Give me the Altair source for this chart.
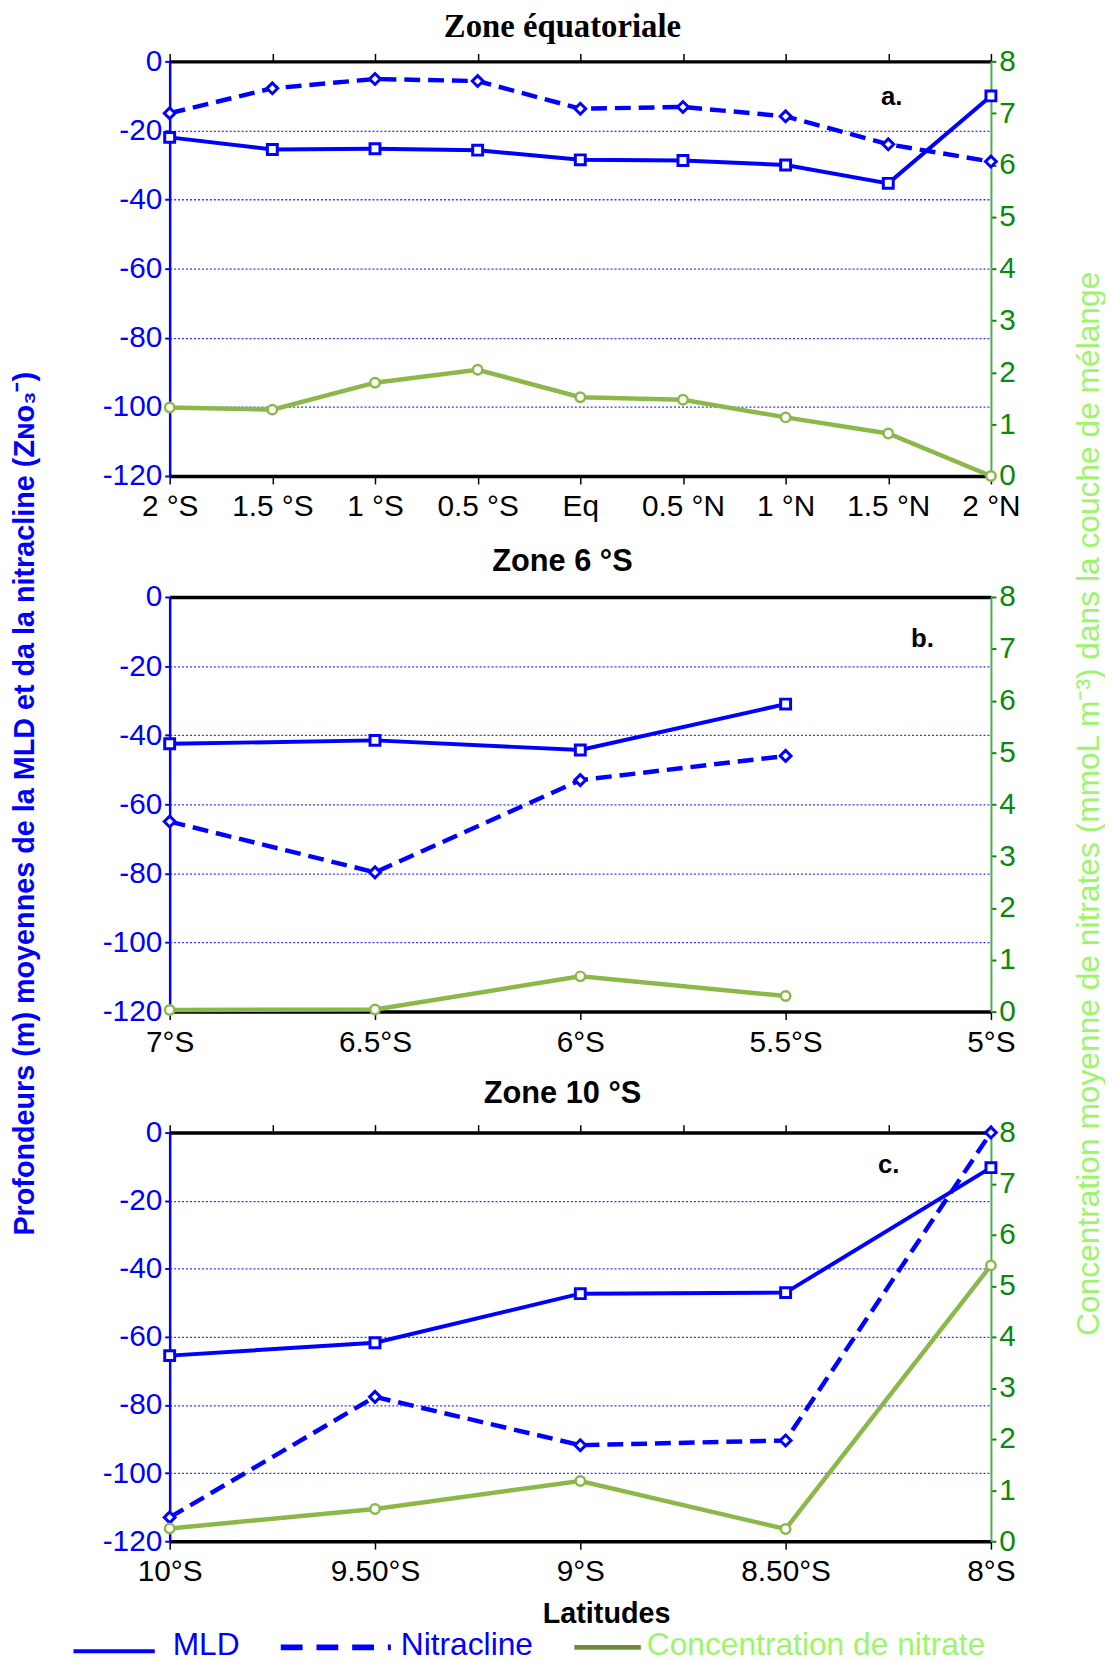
import json
import altair as alt
import pandas as pd

# ---------------- data ----------------
lat_a = [-2, -1.5, -1, -0.5, 0, 0.5, 1, 1.5, 2]
ticks_a = [-2, -1.5, -1, -0.5, 0, 0.5, 1, 1.5, 2]
labels_a = ["2 °S", "1.5 °S", "1 °S", "0.5 °S", "Eq", "0.5 °N", "1 °N", "1.5 °N", "2 °N"]
mld_a = [-22, -25.5, -25.3, -25.7, -28.5, -28.7, -30, -35.3, -10]
nit_a = [-15, -7.8, -5.1, -5.7, -13.7, -13.2, -15.9, -24, -29]
no3_a = [1.32, 1.28, 1.8, 2.05, 1.52, 1.47, 1.13, 0.82, 0.0]

lat_b = [-7, -6.5, -6, -5.5]
ticks_b = [-7, -6.5, -6, -5.5, -5]
labels_b = ["7°S", "6.5°S", "6°S", "5.5°S", "5°S"]
mld_b = [-42.5, -41.5, -44.3, -31]
nit_b = [-65, -79.7, -53, -46]
no3_b = [0.03, 0.04, 0.68, 0.3]

lat_c = [-10, -9.5, -9, -8.5, -8]
ticks_c = [-10, -9.5, -9, -8.5, -8]
top_ticks_c = [-10, -9.75, -9.5, -9.25, -9, -8.75, -8.5, -8.25, -8]
labels_c = ["10°S", "9.50°S", "9°S", "8.50°S", "8°S"]
mld_c = [-65.5, -61.7, -47.3, -47, -10.3]
nit_c = [-113, -77.6, -91.8, -90.4, 0]
no3_c = [0.25, 0.63, 1.18, 0.24, 5.4]

depth_ticks = [0, -20, -40, -60, -80, -100, -120]
conc_ticks = [0, 1, 2, 3, 4, 5, 6, 7, 8]

titles = ["Zone équatoriale", "Zone 6 °S", "Zone 10 °S"]
panel_tags = ["a.", "b.", "c."]
left_title = "Profondeurs (m) moyennes de la MLD et da la nitracline (Zɴᴏ₃⁻)"
right_title = "Concentration moyenne de nitrates (mmoL m⁻³) dans la couche de mélange"
x_title = "Latitudes"
legend_names = ["MLD", "Nitracline", "Concentration de nitrate"]

# ---------------- style ----------------
BLUE = "#0000FF"
GREEN_AX = "#0A8A0A"
GREEN_LINE = "#8CB84A"
GREEN_LEG = "#6E8B3D"
GREEN_TITLE = "#9CF56A"
FONT = "Liberation Sans"
W = 828
HA, HB, HC, GAP = 418, 418, 412, 122


def label_expr(ticks, labels):
    return f"{json.dumps(labels, ensure_ascii=False)}[indexof({json.dumps(ticks)}, datum.value)]"


def panel(lat, mld, nit, no3, ticks, labels, top_ticks, height, title, title_xy, title_font,
          title_size, tag, tag_xy, domain, show_ytitles=False, show_xtitle=False, legend_y=None):
    df = pd.DataFrame({"lat": lat, "mld": mld, "nit": nit, "no3": no3})
    base = alt.Chart(df)

    x_bottom = alt.X(
        "lat:Q",
        scale=alt.Scale(domain=domain, nice=False, zero=False),
        axis=alt.Axis(
            orient="bottom", values=ticks, labelExpr=label_expr(ticks, labels),
            title=x_title if show_xtitle else None,
            titleX=440, titleY=73, titleBaseline="middle", titleAlign="center",
            titleFont=FONT, titleFontSize=29, titleFontWeight="bold", titleColor="black",
            labelFont=FONT, labelFontSize=30, labelColor="black", labelPadding=8,
            labelFlush=False, labelOverlap=False,
            domainColor="black", domainWidth=3.5, tickColor="black", tickSize=8,
            tickWidth=1.5, grid=False,
        ),
    )
    x_top = alt.X(
        "lat:Q",
        scale=alt.Scale(domain=domain, nice=False, zero=False),
        axis=alt.Axis(
            orient="top", values=top_ticks, labels=False, title=None,
            domainColor="black", domainWidth=3.5, tickColor="black", tickSize=8,
            tickWidth=1.5, grid=False, ticks=len(top_ticks) > 0,
        ),
    )

    y_left = alt.Y(
        "mld:Q",
        scale=alt.Scale(domain=[-120, 0], nice=False),
        axis=alt.Axis(
            orient="left", values=depth_ticks, labelExpr="'' + datum.value",
            title=left_title if show_ytitles else None,
            titleX=-146, titleY=748, titleAngle=270, titleBaseline="middle",
            titleAlign="center", titleFont=FONT, titleFontSize=29, titleFontWeight="bold",
            titleColor=BLUE,
            labelFont=FONT, labelFontSize=30, labelColor=BLUE, labelPadding=3,
            domainColor=BLUE, domainWidth=2.5, tickColor=BLUE, tickSize=5, tickWidth=2,
            grid=True, gridColor=BLUE, gridDash=[2, 2], gridWidth=1.3, gridOpacity=0.8,
        ),
    )
    y_nit = alt.Y("nit:Q", scale=alt.Scale(domain=[-120, 0], nice=False))
    y_right = alt.Y(
        "no3:Q",
        scale=alt.Scale(domain=[0, 8], nice=False),
        axis=alt.Axis(
            orient="right", values=conc_ticks,
            title=right_title if show_ytitles else None,
            titleX=98, titleY=748, titleAngle=270, titleBaseline="middle",
            titleAlign="center", titleFont=FONT, titleFontSize=32, titleFontWeight="normal",
            titleColor=GREEN_TITLE,
            labelFont=FONT, labelFontSize=30, labelColor=GREEN_AX, labelPadding=3,
            domainColor="#4CAF50", domainWidth=2, tickColor=GREEN_AX, tickSize=5, tickWidth=2,
            grid=False,
        ),
    )

    mld_line = base.mark_line(color=BLUE, strokeWidth=4).encode(x=x_bottom, y=y_left)
    mld_pts = base.mark_point(shape="square", filled=True, fill="white", stroke=BLUE,
                              strokeWidth=3, size=100, opacity=1).encode(x="lat:Q", y="mld:Q")
    nit_line = base.mark_line(color=BLUE, strokeWidth=4.5, strokeDash=[16, 8]).encode(x="lat:Q", y=y_nit)
    nit_pts = base.mark_point(shape="diamond", filled=True, fill="white", stroke=BLUE,
                              strokeWidth=3, size=120, opacity=1).encode(x="lat:Q", y="nit:Q")

    one = alt.Data(values=[{"k": 1}])
    tag_mark = alt.Chart(one).mark_text(
        text=tag, font=FONT, fontSize=26, fontWeight="bold", color="black",
        align="center", baseline="middle",
    ).encode(x=alt.value(tag_xy[0]), y=alt.value(tag_xy[1]))
    title_mark = alt.Chart(one).mark_text(
        text=title, font=title_font, fontSize=title_size, fontWeight="bold", color="black",
        align="center", baseline="middle",
    ).encode(x=alt.value(title_xy[0]), y=alt.value(title_xy[1]))

    left_layers = [mld_line, mld_pts, nit_line, nit_pts, tag_mark, title_mark]

    if legend_y is not None:
        ly = legend_y
        leg = [
            alt.Chart(one).mark_rule(color=BLUE, strokeWidth=4).encode(
                x=alt.value(-97), x2=alt.value(-15), y=alt.value(ly + 6)),
            alt.Chart(one).mark_text(text=legend_names[0], font=FONT, fontSize=32, color=BLUE,
                                     align="left", baseline="middle").encode(
                x=alt.value(3), y=alt.value(ly)),
            alt.Chart(one).mark_rule(color=BLUE, strokeWidth=6, strokeDash=[22, 14]).encode(
                x=alt.value(112), x2=alt.value(223), y=alt.value(ly + 2)),
            alt.Chart(one).mark_text(text=legend_names[1], font=FONT, fontSize=32, color=BLUE,
                                     align="left", baseline="middle").encode(
                x=alt.value(233), y=alt.value(ly)),
            alt.Chart(one).mark_rule(color=GREEN_LEG, strokeWidth=5).encode(
                x=alt.value(408), x2=alt.value(475), y=alt.value(ly + 2)),
            alt.Chart(one).mark_text(text=legend_names[2], font=FONT, fontSize=32, color=GREEN_TITLE,
                                     align="left", baseline="middle").encode(
                x=alt.value(481), y=alt.value(ly)),
        ]
        left_layers += leg

    left = alt.layer(*left_layers)

    no3_line = base.mark_line(color=GREEN_LINE, strokeWidth=4.5).encode(x=x_top, y=y_right)
    no3_pts = base.mark_point(shape="circle", filled=True, fill="white", stroke=GREEN_LINE,
                              strokeWidth=2.5, size=90, opacity=1).encode(x="lat:Q", y="no3:Q")
    right = alt.layer(no3_line, no3_pts)

    ch = alt.layer(left, right).resolve_scale(y="independent").resolve_axis(
        x="independent", y="independent"
    ).properties(width=W, height=height)
    return ch


pa = panel(lat_a, mld_a, nit_a, no3_a, ticks_a, labels_a, ticks_a, HA,
           titles[0], (396, -35), "Liberation Serif", 33,
           panel_tags[0], (728, 36), [-2, 2], show_ytitles=True)
pb = panel(lat_b, mld_b, nit_b, no3_b, ticks_b, labels_b, [], HB,
           titles[1], (396, -35), FONT, 31,
           panel_tags[1], (759, 42), [-7, -5])
pc = panel(lat_c, mld_c, nit_c, no3_c, ticks_c, labels_c, top_ticks_c, HC,
           titles[2], (396, -39), FONT, 31,
           panel_tags[2], (725, 33), [-10, -8], show_xtitle=True, legend_y=517)

chart = alt.vconcat(pa, pb, pc, spacing=GAP, bounds="flush").properties(
    padding={"left": 2, "top": -5, "right": 0, "bottom": 0}
).configure_view(stroke=None).configure(background="white")

chart.save("out.html", embed_options={"renderer": "svg", "actions": False})
